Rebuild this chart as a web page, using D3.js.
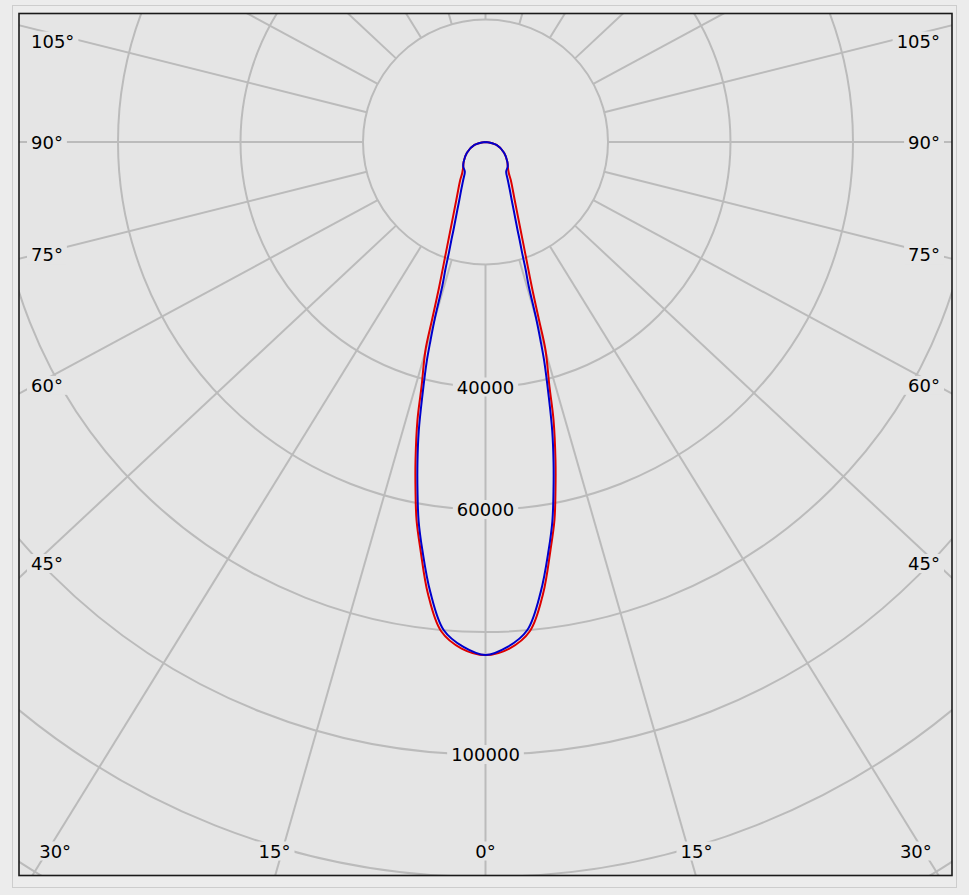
<!DOCTYPE html>
<html>
<head>
<meta charset="utf-8">
<script src="https://cdn.jsdelivr.net/npm/d3@7/dist/d3.min.js"></script>
<style>
  html, body { margin: 0; padding: 0; background: #ececec; }
  svg { display: block; }
  text { font-family: "DejaVu Sans", Verdana, sans-serif; font-size: 18px; fill: #000; }
</style>
</head>
<body>
<svg id="chart" width="969" height="895"></svg>
<script>
// ---- data ----
// angle from nadir (degrees) and luminous intensity (cd)
const blueAngles = [0, 2.5, 4.9, 7.0, 8.8, 10.0, 11.0, 12.0, 13.0, 14.0, 15.0, 15.5, 16.0, 16.7, 17.5, 18.25, 19.2, 20.0, 22.5, 24.3, 26.9, 30.4, 34.9, 42, 48, 60, 75, 90];
const blueValues = [83750, 82520, 79970, 74000, 67400, 62870, 58170, 53420, 48450, 42540, 37040, 33580, 30120, 24500, 21740, 19140, 16940, 15290, 12020, 10390, 8780, 7190, 5900, 5430, 4790, 3500, 1860, 0];
const redAngles = [0, 2.7, 5.2, 7.25, 9.05, 10.34, 11.37, 12.41, 13.75, 14.64, 16.09, 16.73, 17.74, 19.63, 21.75, 26.72, 33.65, 36.9, 42, 48, 60, 75, 90];
const redValues = [83750, 82790, 80170, 74390, 67450, 62730, 57960, 53160, 46720, 41340, 35340, 30350, 24800, 19300, 15460, 10600, 7450, 6330, 5430, 4790, 3500, 1860, 0];

const ringValues = [20000, 40000, 60000, 80000, 100000, 120000, 140000];
const ringLabelValues = [40000, 60000, 100000];
const ringLabels = ["40000", "60000", "100000"];
const spokeAngles = d3.range(0, 360, 15);
const angleTickValues = [0, 15, 30, 45, 60, 75, 90, 105];
const angleTickLabels = ["0°", "15°", "30°", "45°", "60°", "75°", "90°", "105°"];

// ---- layout ----
const svg = d3.select("#chart");
const cx = 485.5, cy = 142;
const plot = { x: 19, y: 13.5, w: 933, h: 862 };
const stretch = 1.07; // spokes are drawn slightly stretched horizontally, as in the source
const r = d3.scaleLinear().domain([0, 20000]).range([0, 122.5]);
const bg = "#e5e5e5", grid = "#bbbbbb";

// outer frame
svg.append("rect").attr("x", 12.5).attr("y", 5.5).attr("width", 944).attr("height", 882)
  .attr("fill", "#ececec").attr("stroke", "#cdcdcd").attr("stroke-width", 1);

svg.append("defs").append("clipPath").attr("id", "clip")
  .append("rect").attr("x", plot.x).attr("y", plot.y).attr("width", plot.w).attr("height", plot.h);

svg.append("rect").attr("x", plot.x).attr("y", plot.y).attr("width", plot.w).attr("height", plot.h)
  .attr("fill", bg);

const g = svg.append("g").attr("clip-path", "url(#clip)");
const gc = g.append("g").attr("transform", `translate(${cx},${cy})`);

// rings
gc.selectAll("circle.ring").data(ringValues).join("circle")
  .attr("class", "ring").attr("r", d => r(d))
  .attr("fill", "none").attr("stroke", grid).attr("stroke-width", 2);

// spokes (from inner ring outward)
const r0 = r(ringValues[0]);
gc.selectAll("line.spoke").data(spokeAngles).join("line")
  .attr("class", "spoke")
  .each(function(a) {
    const t = a * Math.PI / 180;
    let ux = Math.sin(t) * stretch, uy = Math.cos(t);
    const n = Math.hypot(ux, uy); ux /= n; uy /= n;
    d3.select(this)
      .attr("x1", ux * r0).attr("y1", uy * r0)
      .attr("x2", ux * 2000).attr("y2", uy * 2000);
  })
  .attr("stroke", grid).attr("stroke-width", 2);

// curves
function pts(angles, values) {
  const right = angles.map((a, i) => [a, values[i]]);
  const left = right.slice(1).reverse().map(d => [-d[0], d[1]]);
  return left.concat(right).reverse();
}
const radial = d3.lineRadial()
  .angle(d => Math.PI - d[0] * Math.PI / 180)
  .radius(d => r(d[1]))
  .curve(d3.curveCatmullRom.alpha(0.5));

const full = (angles, values) => {
  const right = angles.map((a, i) => [a, values[i]]);
  const left = right.slice(0).reverse().map(d => [-d[0], d[1]]);
  // from +90 (center) down to 0 and up to -90 (center)
  return right.slice().reverse().concat(left.slice(left.length - angles.length + 1).reverse().reverse().slice(0)).filter((d, i, arr) => true);
};
function curvePoints(angles, values) {
  const pos = angles.map((a, i) => [a, values[i]]);       // 0 .. 90
  const neg = pos.slice(1).map(d => [-d[0], d[1]]);      // -small .. -90
  return neg.slice().reverse().concat(pos);              // -90 .. 0 .. 90
}

gc.append("path").datum(curvePoints(redAngles, redValues))
  .attr("d", radial).attr("fill", "none").attr("stroke", "#dd0000").attr("stroke-width", 2);
gc.append("path").datum(curvePoints(blueAngles, blueValues))
  .attr("d", radial).attr("fill", "none").attr("stroke", "#0000cc").attr("stroke-width", 2);

// labels with background boxes
function labelWithBox(parent, x, y, txt, anchor) {
  const grp = parent.append("g");
  const t = grp.append("text").attr("x", x).attr("y", y)
    .attr("text-anchor", anchor).attr("dominant-baseline", "central").text(txt);
  const b = t.node().getBBox();
  grp.insert("rect", "text")
    .attr("x", b.x - 4).attr("y", b.y + 1).attr("width", b.width + 8).attr("height", b.height - 2)
    .attr("fill", bg);
}

// intensity labels along the 0° axis
ringLabelValues.forEach((v, i) => {
  labelWithBox(g, cx, cy + r(v), ringLabels[i], "middle");
});

// angle labels
const bottomY = 851, sideInset = 421.5;
angleTickValues.forEach((a, i) => {
  const txt = angleTickLabels[i];
  const t = a * Math.PI / 180;
  if (a <= 30) {
    const off = (bottomY - cy) * Math.tan(t);
    if (a === 0) {
      labelWithBox(g, cx, bottomY, txt, "middle");
    } else {
      labelWithBox(g, cx - off - 21, bottomY, txt, "middle");
      labelWithBox(g, cx + off + 21, bottomY, txt, "middle");
    }
  } else {
    let y = cy + sideInset * Math.cos(t) / Math.sin(t);
    y = Math.max(41, y);
    labelWithBox(g, 31, y, txt, "start");
    labelWithBox(g, 940, y, txt, "end");
  }
});

// plot border
svg.append("rect").attr("x", plot.x).attr("y", plot.y).attr("width", plot.w).attr("height", plot.h)
  .attr("fill", "none").attr("stroke", "#1a1a1a").attr("stroke-width", 1.6);
</script>
</body>
</html>
